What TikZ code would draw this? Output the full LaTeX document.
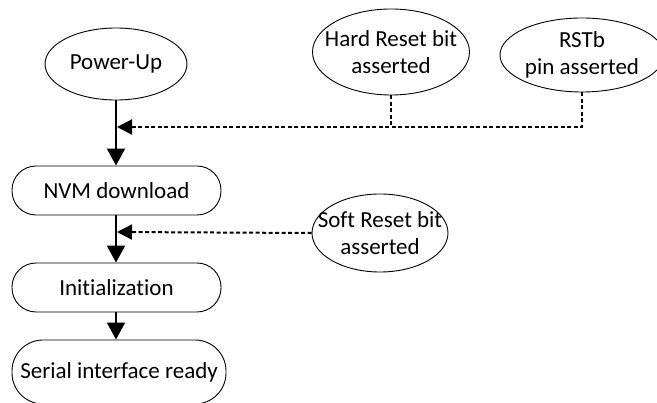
\documentclass[tikz,border=0pt]{standalone}
\usepackage{fontspec}
\setmainfont[Ligatures=NoCommon]{Carlito}
\usetikzlibrary{shapes.geometric,arrows.meta}
\newcommand\zw[1]{\makebox[0pt]{#1}}
\begin{document}
\begin{tikzpicture}[x=1pt,y=-1pt,
  every node/.style={font=\fontsize{23}{27}\selectfont, align=center, inner sep=0pt},
  oval/.style={ellipse, draw, line width=0.9pt},
  stadium/.style={draw, rounded corners=24pt, line width=0.9pt},
  flow/.style={line width=2pt, -{Triangle[length=17pt,width=18pt]}},
  sig/.style={line width=2pt, dash pattern=on 4pt off 2.5pt, -{Triangle[length=15pt,width=15pt]}},
  sigline/.style={line width=2pt, dash pattern=on 4pt off 2.5pt}]
\useasboundingbox (0,0) rectangle (657,403);
\node[oval, minimum width=142pt, minimum height=72pt] (pu) at (116,64) {\zw{Power-Up}};
\node[oval, minimum width=157pt, minimum height=86pt] (hr) at (391,52) {\zw{Hard Reset bit}\\\zw{asserted}};
\node[oval, minimum width=164pt, minimum height=74pt] (rst) at (582,55) {\zw{RSTb}\\\zw{pin asserted}};
\node[oval, minimum width=136pt, minimum height=78pt] (sr) at (380,233) {\zw{Soft Reset bit}\\\zw{asserted}};
\node[stadium, minimum width=209pt, minimum height=49pt] (nvm) at (116.5,190.5) {NVM download};
\node[stadium, minimum width=209pt, minimum height=49pt] (init) at (116.5,287.5) {Initialization};
\node[stadium, rounded corners=31pt, minimum width=214pt, minimum height=64pt] (ser) at (119,372) {Serial interface ready};
\coordinate (j1) at (117,127);
\coordinate (j2) at (117,232);
\draw[flow] (pu.south) -- (pu.south |- nvm.north);
\draw[flow] (nvm.south -| pu.south) -- (init.north -| pu.south);
\draw[flow] (init.south -| pu.south) -- (ser.north -| pu.south);
\draw[sig] (rst.south) |- (j1);
\draw[sigline] (hr.south) -- (hr.south |- j1);
\draw[sig] (sr.west) -- (j2);
\end{tikzpicture}
\end{document}
